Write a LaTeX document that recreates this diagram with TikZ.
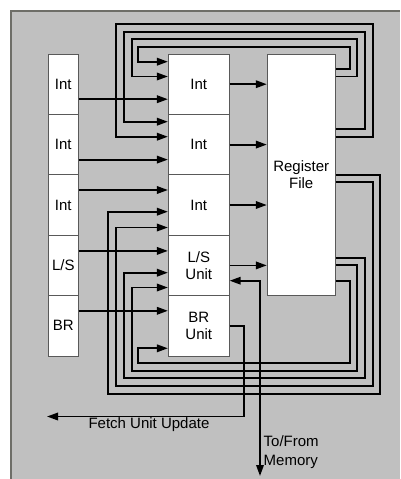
\documentclass[tikz,border=0pt]{standalone}
\usepackage{fontspec}
\setmainfont{Liberation Sans}
\usetikzlibrary{arrows.meta}

\definecolor{panelgray}{RGB}{192,192,192}
\definecolor{paneledge}{RGB}{110,110,104}

\begin{document}
\begin{tikzpicture}[x=1pt,y=-1pt,
  box/.style={draw=black!65, fill=white, line width=0.8pt, inner sep=0pt,
    minimum height=60.4pt, align=center, font=\fontsize{15}{17}\selectfont},
  slotbox/.style={box, minimum width=30pt},
  unitbox/.style={box, minimum width=61pt},
  wire/.style={line width=1.8pt},
  arr/.style={wire, -{Triangle[length=11pt,width=7.5pt]}}]
  \useasboundingbox (0,0) rectangle (400,479);

  % panel
  \fill[panelgray] (11,11) rectangle (400,479);
  \draw[paneledge, line width=1.5pt] (11,479) -- (11,11) -- (400,11);

  % issue slots and units
  \foreach \lab [count=\i] in {Int,Int,Int,L/S,BR}
    \node[slotbox] (slot\i) at (63.3,{84.2+60.4*(\i-1)}) {\lab};
  \foreach \lab [count=\i] in {Int,Int,Int,{L/S\\Unit},{BR\\Unit}}
    \node[unitbox] (unit\i) at (198.8,{84.2+60.4*(\i-1)}) {\lab};
  \node[box, minimum width=68pt, minimum height=241pt] (rf) at (301.2,174.5) {Register\\File};

  \foreach \i/\s in {1/-15,2/-15,3/15,4/14.5,5/15}
    \draw[arr] ([yshift=\s pt]slot\i.east) -- ([yshift=\s pt]unit\i.west);
  \foreach \i in {1,...,4}
    \draw[arr] (unit\i.east) -- (unit\i.east -| rf.west);

  % bypass loops from the register file
  \foreach \yo/\xr/\ym/\xl/\yi/\u in {69.3/350/46.7/138.3/61.7/1, 76.5/357.3/39.3/131.7/76.5/1,
      129/365/31.7/124/121.7/2, 136.7/372.7/24/116/136.7/2,
      174.7/380.3/394/108.3/211.7/3, 182.3/372.7/386/116/227.5/3,
      257.7/365/378.3/124/272.7/4, 265.3/357.3/371/131.7/287.5/4,
      280.7/350/363.3/138.3/348.3/5}
    \draw[arr] (rf.east |- 0,\yo) -| (\xr,\ym) -| (\xl,\yi) -- (unit\u.west |- 0,\yi);

  % memory and fetch
  \coordinate (mem) at (260,476);
  \draw[wire, {Triangle[length=11pt,width=7.5pt]}-{Triangle[length=11pt,width=7.5pt]}]
    (unit4.east |- 0,280.7) -| (mem);
  \node[anchor=west, align=left, inner sep=1pt, font=\fontsize{15}{18.5}\selectfont] (memlabel) at (262.5,452) {To/From\\Memory};

  \coordinate (fetch) at (47,416.5);
  \draw[arr] (unit5.east) -| (244.3,416.5) -- (fetch);
  \node[inner sep=0pt, font=\fontsize{15}{17}\selectfont] (fetchlabel) at (149,425) {Fetch Unit Update};
\end{tikzpicture}
\end{document}
